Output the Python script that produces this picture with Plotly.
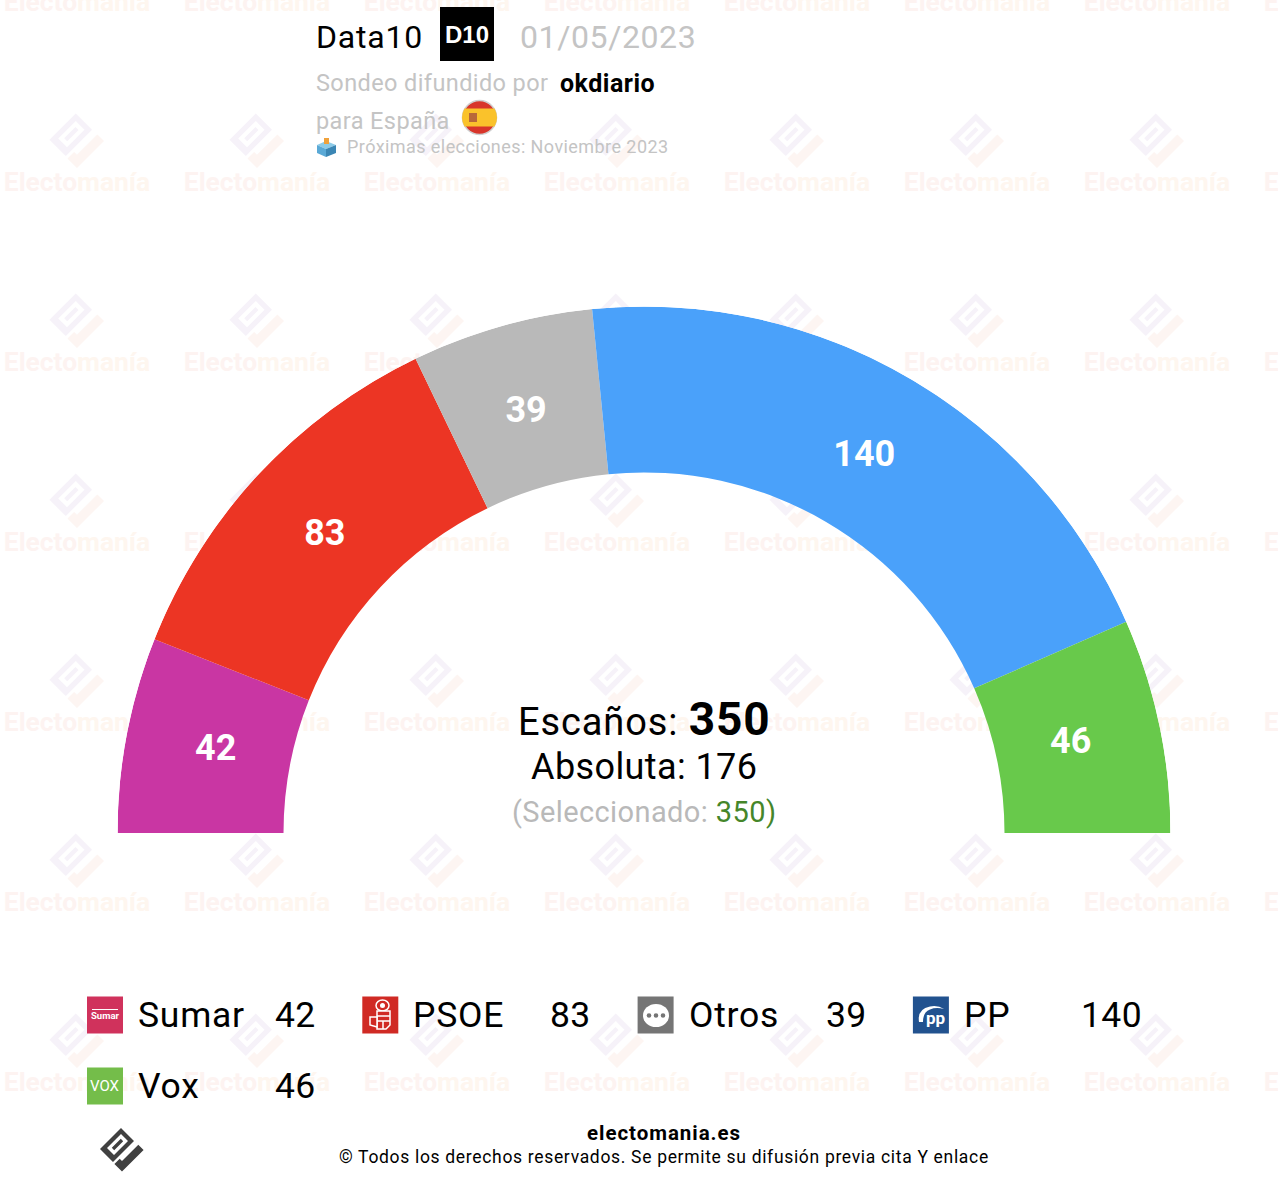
import plotly.graph_objects as go

W = 1278
H = 1184

parties = ["Sumar", "PSOE", "Otros", "PP", "Vox"]
seats = [42, 83, 39, 140, 46]
arc_colors = ["#c936a3", "#ec3524", "#b9b9b9", "#4aa1fa", "#68c94b"]
icon_colors = ["#d0325c", "#d02a24", "#757575", "#22528f", "#74bd4a"]
total_seats = 350
majority = 176
selected = 350

FONT = "Roboto"
CX, CY = 644, 833
R_IN, R_OUT = 360.5, 526.5
PAD = 2  # annotations keep a little padding, take it back on left/right anchored text


def logo_paths(cx, cy, s):
    # the logo is a tilted ring plus a tick, drawn on a 45deg grid
    def pt(u, v):
        return f"{cx + (u - v) * s:.1f},{cy + (u + v) * s:.1f}"

    def poly(points):
        return "M" + " L".join(pt(u, v) for u, v in points) + " Z"

    def rect(u0, u1, v0, v1):
        return poly([(u0, v0), (u1, v0), (u1, v1), (u0, v1)])

    ring = " ".join([rect(-11.5, 1.5, -10.5, 10.5), rect(-8.5, -1.5, -7.5, 6.5), rect(-6.2, -3.8, -5, 4)])
    tick = poly([(5.5, -10.8), (10.8, -10.8), (10.8, 10.8), (3.2, 10.8), (3.2, 5.5), (5.5, 5.5)])
    return ring, tick


def add_box(fig, x0, y0, x1, y1, color):
    fig.add_shape(type="rect", x0=x0, y0=y0, x1=x1, y1=y1, xref="x", yref="y",
                  fillcolor=color, line_width=0)


def add_path(fig, path, color, line=None):
    fig.add_shape(type="path", path=path, xref="x", yref="y", fillcolor=color,
                  line=dict(width=1.5 if line else 0, color=line))


def add_circle(fig, x0, y0, x1, y1, color, line=None):
    fig.add_shape(type="circle", x0=x0, y0=y0, x1=x1, y1=y1, xref="x", yref="y", fillcolor=color,
                  line=dict(width=1.5 if line else 0, color=line))


def add_text(fig, x, y, text, size, color="#000", anchor="left", sp=0, family=FONT):
    if sp:
        text = f'<span style="letter-spacing:{sp}px">{text}</span>'
    shift = {"left": -PAD, "right": PAD, "center": 0}[anchor]
    fig.add_annotation(x=x + shift, y=y, xref="x", yref="y", text=text, showarrow=False,
                       xanchor=anchor, yanchor="middle", font=dict(family=family, size=size, color=color))


fig = go.Figure()

# watermark sits on the cartesian layer so the arcs cover it
wm_x = [77 + 180 * i for i in range(8)]
wm_y = [4 + 180 * j for j in range(7)]
wm_text = '<b><span style="color:#fdf3f1">Electo</span><span style="color:#fef6ef">manía</span></b>'
fig.add_trace(go.Scatter(
    x=[x for x in wm_x for y in wm_y], y=[y for x in wm_x for y in wm_y],
    mode="text", text=[wm_text] * (len(wm_x) * len(wm_y)),
    textfont=dict(family=FONT, size=26.4, color="#fdf3f0"), hoverinfo="skip", showlegend=False))

for x in wm_x:
    for y in wm_y[1:]:
        ring, tick = logo_paths(x, y - 43, 1.25)
        fig.add_shape(type="path", path=ring, xref="x", yref="y", layer="below",
                      fillcolor="#f6f2f9", line_width=0, fillrule="evenodd")
        fig.add_shape(type="path", path=tick, xref="x", yref="y", layer="below",
                      fillcolor="#fdf5f2", line_width=0)

# hemicycle
deg = [v * 180 / total_seats for v in seats]
starts = [sum(deg[:i]) for i in range(len(deg))]
mids = [s + d / 2 for s, d in zip(starts, deg)]

fig.add_trace(go.Barpolar(
    r=[R_OUT - R_IN] * len(seats), base=[R_IN] * len(seats), theta=mids, width=deg,
    marker=dict(color=arc_colors, line=dict(width=0)), hoverinfo="skip", showlegend=False))
fig.add_trace(go.Scatterpolar(
    r=[436] * len(seats), theta=mids, mode="text", text=[f"<b>{v}</b>" for v in seats],
    textfont=dict(family=FONT, size=36, color="white"), hoverinfo="skip", showlegend=False))

# centre text
add_text(fig, CX, 719, f'Escaños: <b><span style="font-size:46px">{total_seats}</span></b>', 38, anchor="center", sp=0.9)
add_text(fig, CX, 767, f"Absoluta: {majority}", 36, anchor="center", sp=0.4)
add_text(fig, CX, 812, f'(Seleccionado: <span style="color:#45862a">{selected})</span>', 29, "#b9b9b9", "center", sp=0.4)

# header
add_text(fig, 316, 37, "Data10", 32, sp=0.8)
add_box(fig, 440, 7, 494, 61, "#000")
add_text(fig, 467, 34, "<b>D10</b>", 24, "#fff", "center", family="Liberation Sans")
add_text(fig, 520, 37, "01/05/2023", 32, "#c4c4c4", sp=0.6)
add_text(fig, 316, 83, "Sondeo difundido por", 23.5, "#c4c4c4", sp=0.4)
add_text(fig, 560, 83, "<b>okdiario</b>", 25, sp=0.5)
add_text(fig, 316, 121, "para España", 23.5, "#c4c4c4", sp=0.4)
add_text(fig, 347, 146, "Próximas elecciones: Noviembre 2023", 18, "#c4c4c4", sp=0.43)

# spanish flag
add_circle(fig, 462.5, 100.5, 496.5, 134.5, "#d8352a", "#cfcfcf")
add_path(fig, "M464.5,108.5 L494.5,108.5 Q499.5,117.5 494.5,126.5 L464.5,126.5 Q459.5,117.5 464.5,108.5 Z", "#fac22b")
add_box(fig, 469, 113, 477, 122, "#b8683a")

# ballot box
add_path(fig, "M317,145 L326,141 L336,145 L326,149 Z", "#8ccbe8")
add_path(fig, "M317,145 L326,149 L326,157 L317,153 Z", "#5aa9d6")
add_path(fig, "M326,149 L336,145 L336,153 L326,157 Z", "#3b86b4")
add_box(fig, 324, 138, 329, 144, "#f0a23c")

# legend
for i, (name, value, color) in enumerate(zip(parties, seats, icon_colors)):
    col = i % 4
    row = i // 4
    x = 87 + col * 275.3
    y = 1015 + row * 71
    add_box(fig, x, y - 18.5, x + 36, y + 18.5, color)
    add_text(fig, x + 51, y, name, 35.5, sp=0.75)
    add_text(fig, x + 229, y, str(value), 35.5, anchor="right", sp=0.4)

# what goes inside each party icon
add_box(fig, 92, 1009, 118, 1010, "#fff")
add_text(fig, 105, 1015, "<b>Sumar</b>", 9.5, "#fff", "center")
add_text(fig, 105, 1086, "VOX", 15, "#fff", "center")
add_circle(fig, 376, 1000, 389, 1011, "#d02a24", "#fff")
add_circle(fig, 380, 1003, 385, 1008, "#fff")
add_path(fig, "M377,1011 L390,1011 L390,1025 L386,1029 L377,1029 Z", "#d02a24", "#fff")
add_path(fig, "M377,1017 L370,1017 L370,1025 L377,1027 Z", "#d02a24", "#fff")
add_path(fig, "M377,1016 L390,1016 M377,1021 L390,1021 M383,1021 L383,1029", "rgba(0,0,0,0)", "#fff")
add_circle(fig, 643, 1004, 669, 1027, "#fff")
for dx in (-7, 0, 7):
    add_circle(fig, 656 + dx - 2.3, 1013.2, 656 + dx + 2.3, 1017.8, "#757575")
add_text(fig, 935, 1018, "<b>pp</b>", 17, "#fff", "center")
add_path(fig, "M919,1022 Q917,1009 930,1006.5 Q938,1005 944,1009 Q936,1007 930,1009.5 Q923,1012 923,1022 Z", "#fff")

# footer
ring, tick = logo_paths(122, 1150, 1.0)
fig.add_shape(type="path", path=ring, xref="x", yref="y", fillcolor="#404040", line_width=0, fillrule="evenodd")
fig.add_shape(type="path", path=tick, xref="x", yref="y", fillcolor="#404040", line_width=0)
add_text(fig, 663.5, 1133, "<b>electomania.es</b>", 20.5, anchor="center", sp=0.95)
add_text(fig, 663.5, 1157, "© Todos los derechos reservados. Se permite su difusión previa cita Y enlace", 17.5, anchor="center", sp=0.68)

fig.update_layout(
    width=W, height=H, margin=dict(l=0, r=0, t=0, b=0),
    paper_bgcolor="white", plot_bgcolor="rgba(0,0,0,0)", showlegend=False,
    xaxis=dict(range=[0, W], visible=False, fixedrange=True, domain=[0, 1]),
    yaxis=dict(range=[H, 0], visible=False, fixedrange=True, domain=[0, 1]),
    polar=dict(
        domain=dict(x=[(CX - R_OUT) / W, (CX + R_OUT) / W], y=[1 - CY / H, 1 - (CY - R_OUT) / H]),
        sector=[0, 180], bgcolor="rgba(0,0,0,0)",
        radialaxis=dict(range=[0, R_OUT], visible=False),
        angularaxis=dict(rotation=180, direction="clockwise", visible=False, thetaunit="degrees"),
    ),
)

fig.write_html("out.html", config=dict(displayModeBar=False),
               post_script="document.body.style.margin='0';document.body.style.overflow='hidden';")
